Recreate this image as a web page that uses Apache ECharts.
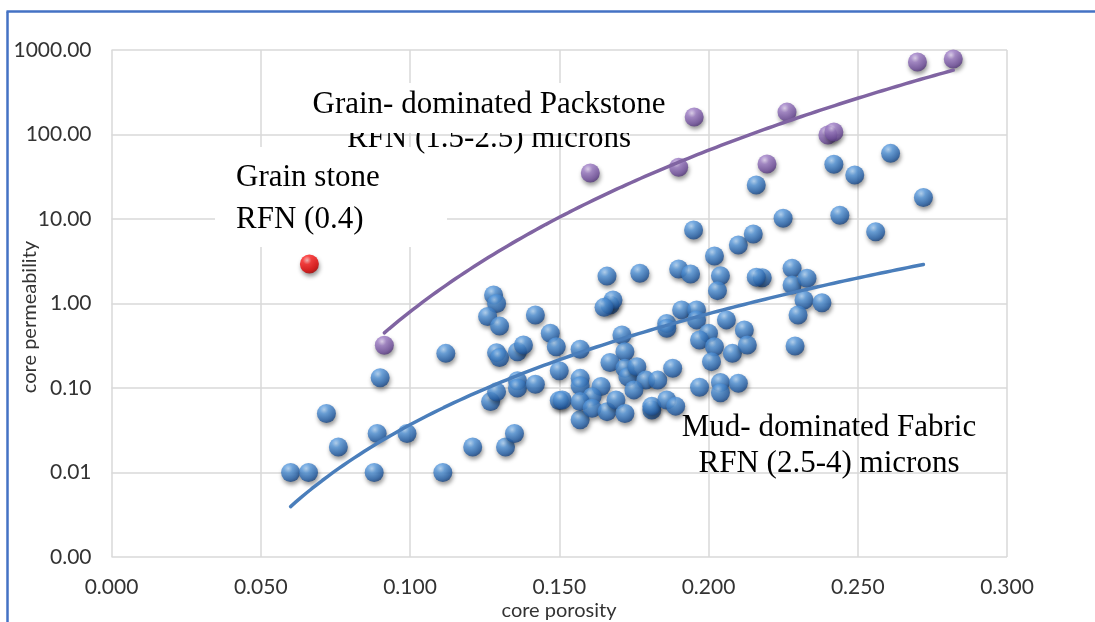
<!DOCTYPE html>
<html><head><meta charset="utf-8">
<script src="https://cdn.jsdelivr.net/npm/echarts@6/dist/echarts.min.js"></script>
<style>html,body{margin:0;padding:0;background:#fff}#c{width:1095px;height:622px}</style>
</head><body><div id="c"></div>
<script>
// ---- data (core porosity, core permeability) ----
const mudPoints = [
 [0.060,0.010],[0.066,0.010],[0.072,0.050],[0.076,0.020],[0.089,0.029],[0.088,0.010],[0.099,0.029],
 [0.111,0.010],[0.121,0.020],[0.132,0.020],[0.135,0.029],[0.090,0.132],[0.112,0.257],[0.127,0.069],
 [0.129,0.090],[0.136,0.122],[0.136,0.100],[0.142,0.111],[0.128,1.26],[0.129,1.00],[0.126,0.70],
 [0.130,0.54],[0.142,0.73],[0.147,0.444],[0.149,0.308],[0.157,0.287],[0.129,0.262],[0.130,0.23],
 [0.136,0.269],[0.138,0.323],[0.150,0.160],[0.157,0.130],[0.157,0.106],[0.150,0.071],[0.151,0.072],
 [0.157,0.042],[0.195,7.41],[0.225,10.2],[0.202,3.65],[0.210,4.92],[0.215,6.64],[0.166,2.11],
 [0.177,2.28],[0.190,2.56],[0.194,2.23],[0.204,2.13],[0.203,1.42],[0.218,2.02],[0.228,2.61],
 [0.228,1.66],[0.233,1.99],[0.232,1.10],[0.238,1.02],[0.230,0.73],[0.229,0.314],[0.167,0.96],
 [0.168,1.10],[0.165,0.90],[0.171,0.424],[0.172,0.269],[0.167,0.20],[0.172,0.171],[0.173,0.136],
 [0.176,0.179],[0.179,0.124],[0.183,0.124],[0.175,0.095],[0.188,0.171],[0.164,0.104],[0.161,0.079],
 [0.157,0.069],[0.161,0.0575],[0.166,0.0525],[0.169,0.072],[0.172,0.050],[0.181,0.055],[0.181,0.061],
 [0.186,0.072],[0.189,0.061],[0.197,0.102],[0.204,0.116],[0.204,0.088],[0.210,0.114],[0.186,0.58],
 [0.186,0.51],[0.191,0.84],[0.196,0.84],[0.196,0.64],[0.206,0.64],[0.200,0.444],[0.197,0.37],
 [0.202,0.308],[0.201,0.205],[0.208,0.257],[0.212,0.486],[0.213,0.323],[0.216,25.2],[0.242,44.4],
 [0.249,33.2],[0.261,59.8],[0.272,18.0],[0.244,11.1],[0.256,7.08],[0.216,2.05]
];
const packPoints = [
 [0.0914,0.32],[0.1604,35],[0.1952,161],[0.190,41],[0.2196,44.8],[0.2263,184],
 [0.240,98.6],[0.242,107],[0.270,721],[0.282,783]
];
const grainPoints = [[0.0663,2.93]];
const xTickStep = 0.05;
const xMin = 0, xMax = 0.3;
const yMin = 0.001, yMax = 1000;
const xTitle = 'core porosity';
const yTitle = 'core permeability';
const noteGrain = ['Grain stone','RFN (0.4)'];
const notePack = ['Grain- dominated Packstone','RFN (1.5-2.5) microns'];
const noteMud = ['Mud- dominated Fabric','RFN (2.5-4) microns'];

// power-law trendline (least squares in log-log, like a spreadsheet "power" trendline)
function powerTrend(pts, n){
  const lx = pts.map(p=>Math.log(p[0])), ly = pts.map(p=>Math.log(p[1]));
  const mx = lx.reduce((a,b)=>a+b,0)/lx.length, my = ly.reduce((a,b)=>a+b,0)/ly.length;
  let sxy=0,sxx=0; for(let i=0;i<lx.length;i++){sxy+=(lx[i]-mx)*(ly[i]-my);sxx+=(lx[i]-mx)*(lx[i]-mx);}
  const b=sxy/sxx, a=Math.exp(my-b*mx);
  const xs=pts.map(p=>p[0]); const x0=Math.min(...xs), x1=Math.max(...xs);
  const out=[]; for(let i=0;i<=n;i++){const x=x0+(x1-x0)*i/n; out.push([x,a*Math.pow(x,b)]);}
  return out;
}

function sphere(c0,c1,c2,c3){
  return {type:'radial',x:0.38,y:0.3,r:0.75,colorStops:[
    {offset:0,color:c0},{offset:0.3,color:c1},{offset:0.75,color:c2},{offset:1,color:c3}]};
}
const shadow = {shadowBlur:4,shadowOffsetY:3,shadowOffsetX:1,shadowColor:'rgba(0,0,0,0.5)'};

const chart = echarts.init(document.getElementById('c'));
const labelFont = {fontFamily:'Lato',fontSize:21,color:'#333'};
const serif = 'Liberation Serif';
chart.setOption({
  animation:false,
  backgroundColor:'#fff',
  grid:{left:111.5,right:88,top:50,bottom:65},
  xAxis:{type:'value',min:xMin,max:xMax,interval:xTickStep,
    axisLine:{show:false},axisTick:{show:false},
    splitLine:{show:true,lineStyle:{color:'#d9d9d9',width:1.5}},
    axisLabel:Object.assign({margin:20,formatter:v=>v.toFixed(3)},labelFont)},
  yAxis:{type:'log',logBase:10,min:yMin,max:yMax,
    axisLine:{show:false},axisTick:{show:false},
    splitLine:{show:true,lineStyle:{color:'#d9d9d9',width:1.5}},
    axisLabel:Object.assign({margin:20,formatter:v=>Number(v).toFixed(2)},labelFont)},
  series:[
    {type:'scatter',data:mudPoints,symbolSize:19,z:2,
     itemStyle:Object.assign({color:sphere('#b0d4f7','#5a9ce0','#2a66ae','#173f78')},shadow)},
    {type:'scatter',data:packPoints,symbolSize:19,z:2,
     itemStyle:Object.assign({color:sphere('#e2d2f2','#a07fc8','#7452a0','#4d3273')},shadow)},
    {type:'scatter',data:grainPoints,symbolSize:19,z:2,
     itemStyle:Object.assign({color:sphere('#ffb0b0','#ff2020','#e00000','#9a0000')},shadow)},
    {type:'line',data:powerTrend(mudPoints,120),showSymbol:false,symbol:'none',z:5,
     lineStyle:{color:'#4a7ebb',width:3.5,cap:'round'}},
    {type:'line',data:powerTrend(packPoints,120),showSymbol:false,symbol:'none',z:5,
     lineStyle:{color:'#8064a2',width:3.5,cap:'round'}}
  ],
  graphic:[
    {type:'line',z:50,shape:{x1:7.5,y1:11.5,x2:7.5,y2:622},style:{stroke:'#4472c4',lineWidth:2.5}},
    {type:'line',z:50,shape:{x1:6.5,y1:11.5,x2:1095,y2:11.5},style:{stroke:'#4472c4',lineWidth:2.5}},
    {type:'text',z:20,x:30,y:317,rotation:Math.PI/2,
     style:{text:yTitle,fontFamily:'Lato',fontSize:20,fill:'#333',align:'center',verticalAlign:'middle'}},
    {type:'text',z:20,x:559,y:611,
     style:{text:xTitle,fontFamily:'Lato',fontSize:20,fill:'#333',align:'center',verticalAlign:'middle'}},
    // Grain stone box
    {type:'rect',z:1,shape:{x:215,y:147,width:232,height:100},style:{fill:'#fff'}},
    {type:'text',z:20,x:236,y:178,style:{text:noteGrain[0],fontFamily:serif,fontSize:31,fill:'#000',align:'left',verticalAlign:'middle'}},
    {type:'text',z:20,x:236,y:220,style:{text:noteGrain[1],fontFamily:serif,fontSize:31,fill:'#000',align:'left',verticalAlign:'middle'}},
    // Packstone note
    {type:'text',z:20,x:489,y:139,style:{text:notePack[1],fontFamily:serif,fontSize:31,fill:'#000',align:'center',verticalAlign:'middle'}},
    {type:'rect',z:21,shape:{x:300,y:83,width:380,height:50},style:{fill:'#fff'}},
    {type:'text',z:22,x:489,y:105,style:{text:notePack[0],fontFamily:serif,fontSize:31,fill:'#000',align:'center',verticalAlign:'middle'}},
    // Mud note
    {type:'text',z:20,x:829,y:428,style:{text:noteMud[0],fontFamily:serif,fontSize:31,fill:'#000',align:'center',verticalAlign:'middle'}},
    {type:'text',z:20,x:829,y:464,style:{text:noteMud[1],fontFamily:serif,fontSize:31,fill:'#000',align:'center',verticalAlign:'middle'}}
  ]
});
</script>
</body></html>
